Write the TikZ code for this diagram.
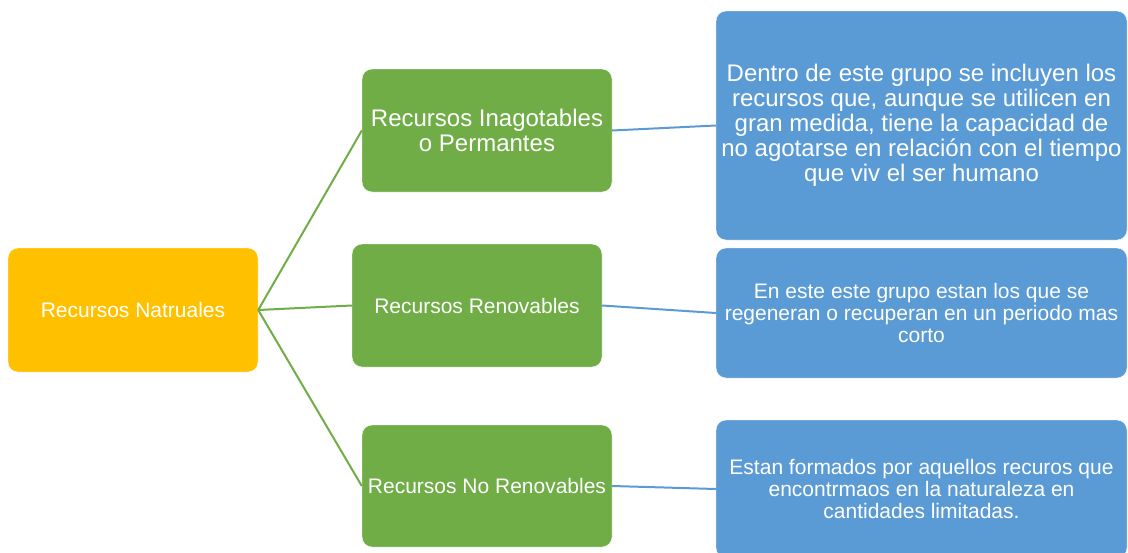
\documentclass[tikz,border=0pt]{standalone}
\usepackage{fontspec}
\setmainfont{Liberation Sans}
\usetikzlibrary{positioning}
\definecolor{natorange}{HTML}{FFC000}
\definecolor{tipogreen}{HTML}{70AD47}
\definecolor{descblue}{HTML}{5B9BD5}
\newcommand{\fsz}[2]{\fontsize{#1}{#2}\selectfont}

\begin{document}
\begin{tikzpicture}[x=1pt, y=-1pt,
  box/.style={rectangle, rounded corners=10pt, draw=white, fill=#1, text=white,
    align=center, inner sep=0pt, minimum width=250pt, minimum height=123pt},
  desc/.style={box=descblue, minimum width=411pt},
  link/.style={draw=#1, line width=2pt}]
  \useasboundingbox (0,0) rectangle (1128,552);
  \clip (0,0) rectangle (1128,552);
  \node[box=natorange, minimum height=124pt, font=\fsz{21}{22}] (nat) at (133,310) {Recursos Natruales};
  \node[box=tipogreen, font=\fsz{24}{25}] (inag) at (487,130.5) {Recursos Inagotables\\o Permantes};
  \node[box=tipogreen, font=\fsz{21}{22}] (renov) at (477,305.5) {Recursos Renovables};
  \node[box=tipogreen, minimum height=122pt, font=\fsz{21}{22}] (norenov) at (487,486) {Recursos No Renovables};
  \node[desc, minimum height=229pt, font=\fsz{24}{25}] (dentro) at (921.5,125.5)
    {Dentro de este grupo se incluyen los\\recursos que, aunque se utilicen en\\gran medida, tiene la capacidad de\\no agotarse en relación con el tiempo\\que viv el ser humano};
  \node[desc, minimum height=130pt, font=\fsz{21}{21.7}] (regen) at (921.5,313)
    {En este este grupo estan los que se\\regeneran o recuperan en un periodo mas\\corto};
  \node[desc, minimum height=138pt, font=\fsz{21}{21.7}] (limit) at (921.5,489)
    {Estan formados por aquellos recuros que\\encontrmaos en la naturaleza en\\cantidades limitadas.};
  \path[link=tipogreen]
  (nat.east) edge (inag.west)
             edge (renov.west)
             edge (norenov.west);
  \path[link=descblue]
  (inag.east)    edge (dentro.west)
  (renov.east)   edge (regen.west)
  (norenov.east) edge (limit.west);
\end{tikzpicture}
\end{document}
